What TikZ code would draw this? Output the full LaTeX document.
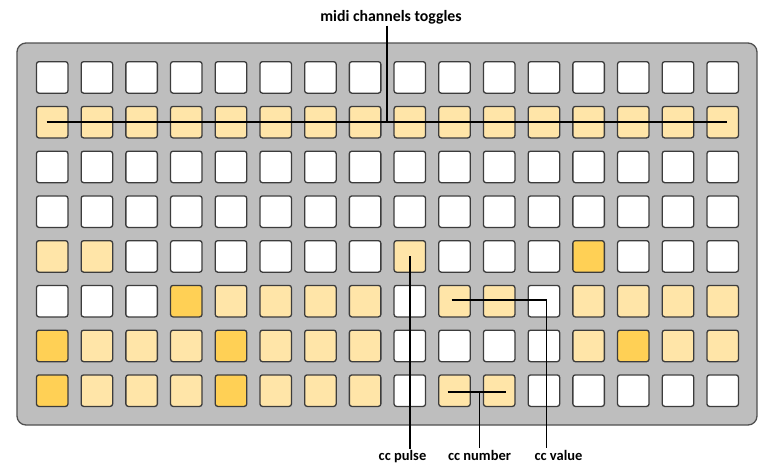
\documentclass[tikz,border=0pt]{standalone}
\usepackage{fontspec}
\setmainfont{Carlito}
\usetikzlibrary{calc}
\definecolor{panelfill}{RGB}{190,190,190}
\definecolor{panelline}{RGB}{80,80,80}
\definecolor{cellline}{RGB}{60,60,60}
\definecolor{lightpad}{RGB}{255,229,168}
\definecolor{darkpad}{RGB}{255,208,85}
\tikzset{
  pad/.style={draw=cellline, line width=1.3pt, rounded corners=2.5pt, minimum width=31.5pt, minimum height=31.5pt, inner sep=0pt, fill=white},
  lp/.style={pad, fill=lightpad},
  dp/.style={pad, fill=darkpad},
  lead/.style={line width=1.8pt, black},
  lbl/.style={font=\fontsize{14.5}{16}\selectfont\bfseries, inner sep=1.5pt, text=black},
  toplbl/.style={lbl, font=\fontsize{15.8}{17}\selectfont\bfseries}
}
\begin{document}
\begin{tikzpicture}[x=1pt,y=-1pt]
\useasboundingbox (0,0) rectangle (769,475);
\draw[fill=panelfill, draw=panelline, line width=1.3pt, rounded corners=9pt] (17,43) rectangle (757,425);
% pattern: 0 white, 1 light, 2 dark
\foreach \r/\pat in {
  1/{0,0,0,0,0,0,0,0,0,0,0,0,0,0,0,0},
  2/{1,1,1,1,1,1,1,1,1,1,1,1,1,1,1,1},
  3/{0,0,0,0,0,0,0,0,0,0,0,0,0,0,0,0},
  4/{0,0,0,0,0,0,0,0,0,0,0,0,0,0,0,0},
  5/{1,1,0,0,0,0,0,0,1,0,0,0,2,0,0,0},
  6/{0,0,0,2,1,1,1,1,0,1,1,0,1,1,1,1},
  7/{2,1,1,1,2,1,1,1,0,0,0,0,1,2,1,1},
  8/{2,1,1,1,2,1,1,1,0,1,1,0,0,0,0,0}}{
  \foreach \v [count=\c] in \pat {
    \ifcase\v
      \node[pad] (c-\r-\c) at ({52.2+(\c-1)*44.7},{77.4+(\r-1)*44.75}) {};
    \or
      \node[lp] (c-\r-\c) at ({52.2+(\c-1)*44.7},{77.4+(\r-1)*44.75}) {};
    \or
      \node[dp] (c-\r-\c) at ({52.2+(\c-1)*44.7},{77.4+(\r-1)*44.75}) {};
    \fi
  }
}
% labels
\node[toplbl] (midi) at (391,17) {midi channels toggles};
\node[lbl] (pulse) at (402.5,456.5) {cc pulse};
\node[lbl] (number) at (479.5,455) {cc number};
\node[lbl] (value) at (558.5,455) {cc value};
% midi channel toggles
\coordinate (mL) at ($(c-2-1.center)+(-5.5,0)$);
\coordinate (mR) at ($(c-2-16.center)+(4,0)$);
\draw[lead] (mL) -- (mR);
\draw[lead] (midi.south -| 386.7,0) -- (386.7,0 |- mL);
% cc pulse
\draw[lead] (c-5-9.center) -- (c-5-9.center |- pulse.north);
% cc value
\coordinate (vS) at ($(c-6-10.center)+(-3,-1)$);
\coordinate (vC) at (546.5,0 |- vS);
\draw[lead] (vS) -- (vC) -- (vC |- value.north);
% cc number
\coordinate (nL) at ($(c-8-10.center)+(-7,1)$);
\coordinate (nR) at ($(c-8-11.center)+(7,1)$);
\draw[lead] (nL) -- (nR);
\draw[lead] (479.5,0 |- nL) -- (479.5,0 |- number.north);
\end{tikzpicture}
\end{document}
